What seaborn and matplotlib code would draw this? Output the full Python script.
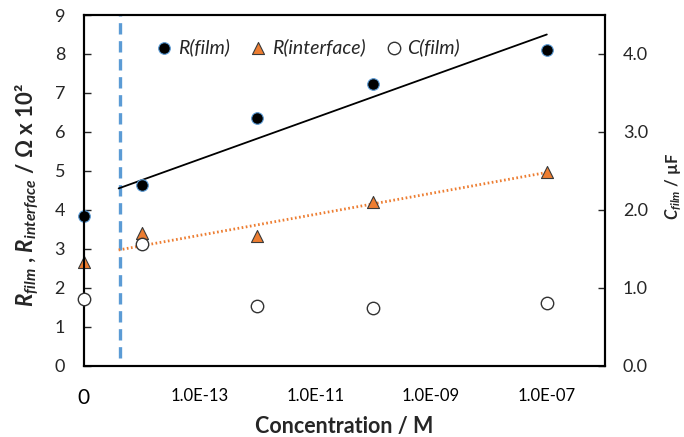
import numpy as np
import pandas as pd
import matplotlib
matplotlib.use("Agg")
import matplotlib.pyplot as plt
import seaborn as sns

# Concentration of each sample (M); the blank (0 M) sits at the left edge of the log axis
conc = [0, 1e-14, 1e-12, 1e-10, 1e-7]
zero_pos = 1e-15

r_film = [3.85, 4.65, 6.36, 7.22, 8.09]        # x 10^2 ohm
r_interface = [2.66, 3.40, 3.34, 4.19, 4.97]   # x 10^2 ohm
c_film = [0.855, 1.56, 0.766, 0.744, 0.81]     # uF

# Trend lines (start / end)
trend_x = [4e-15, 1e-7]
r_film_trend = [4.55, 8.50]
r_interface_trend = [2.97, 4.96]

# Detection-limit marker
limit_x = 4.3e-15
limit_y = [0.2, 9.0]

xtick_vals = [1e-15, 1e-13, 1e-11, 1e-9, 1e-7]
xtick_labels = ["0", "1.0E-13", "1.0E-11", "1.0E-09", "1.0E-07"]

sns.set_theme(style="white")
plt.rcParams["font.family"] = ["Lato", "DejaVu Sans"]
plt.rcParams["mathtext.fontset"] = "custom"
plt.rcParams["mathtext.it"] = "Lato:italic:bold"
plt.rcParams["mathtext.rm"] = "Lato:bold"
plt.rcParams["mathtext.bf"] = "Lato:bold"

x_plot = [c if c > 0 else zero_pos for c in conc]
df = pd.DataFrame({"x": x_plot, "r_film": r_film,
                   "r_interface": r_interface, "c_film": c_film})
trend = pd.DataFrame({"x": trend_x, "film": r_film_trend,
                      "interface": r_interface_trend})

fig = plt.figure(figsize=(6.84, 4.37), dpi=100)
ax = fig.add_axes([83.8 / 684, 1 - 365.7 / 437, (604.7 - 83.8) / 684, (365.7 - 15) / 437])
ax.set_xscale("log")

blue = "#5B9BD5"
orange = "#ED7D31"

ax.vlines(limit_x, limit_y[0], limit_y[1], colors=blue, linewidth=2.4,
          linestyles=(0, (3.4, 2.0)), zorder=1)

sns.lineplot(data=trend, x="x", y="film", ax=ax, color="black",
             linewidth=1.3, zorder=2, legend=False)
sns.lineplot(data=trend, x="x", y="interface", ax=ax, color=orange,
             linewidth=2.0, zorder=2, legend=False)
ax.lines[-1].set_linestyle((0, (0.6, 0.9)))

sns.scatterplot(data=df, x="x", y="r_film", ax=ax, marker="o", s=70,
                color="black", edgecolor=blue, linewidth=0.8, zorder=3,
                label="R(film)", clip_on=False)
sns.scatterplot(data=df, x="x", y="r_interface", ax=ax, marker="^", s=75,
                color=orange, edgecolor="#3a3a3a", linewidth=0.8, zorder=3,
                label="R(interface)", clip_on=False)

ax.set_xlim(1e-15, 1e-6)
ax.set_ylim(0, 9)
ax.set_yticks(range(0, 10))

ax2 = ax.twinx()
sns.scatterplot(data=df, x="x", y="c_film", ax=ax2, marker="o", s=80,
                color="white", edgecolor="#333333", linewidth=1.0, zorder=3,
                label="C(film)", clip_on=False)
ax2.set_ylim(0, 4.5)
ax2.set_yticks([0, 1, 2, 3, 4])
ax2.set_yticklabels([f"{v:.1f}" for v in [0, 1, 2, 3, 4]])
ax.set_xlim(1e-15, 1e-6)

ax.set_xticks(xtick_vals)
ax.set_xticklabels(xtick_labels)
ax.minorticks_off()
ax2.minorticks_off()
ax.xaxis.get_major_ticks()[0].tick1line.set_visible(False)
for lab in ax.get_xticklabels():
    lab.set_fontsize(12)
ax.get_xticklabels()[0].set_fontsize(15)

ax.tick_params(axis="x", direction="in", length=5, width=1, pad=16, colors="black")
ax.tick_params(axis="y", direction="in", length=5, width=1, labelsize=13, pad=13.5)
ax2.tick_params(axis="y", direction="in", length=5, width=1, labelsize=13, pad=13)

for a in (ax, ax2):
    for sp in a.spines.values():
        sp.set_visible(True)
        sp.set_color("black")
        sp.set_linewidth(1.5)

ax.set_xlabel("Concentration / M", fontsize=15.5, fontweight="bold", labelpad=6)
ax.set_ylabel(r"$R_{film}$ , $R_{interface}$ / Ω x 10²", fontsize=16, fontweight="bold")
ax.yaxis.set_label_coords(-0.082, 0.487)
ax2.set_ylabel(r"$C_{film}$ / µF", fontsize=12, fontweight="bold")
ax2.yaxis.set_label_coords(1.114, 0.512)

h1, l1 = ax.get_legend_handles_labels()
h2, l2 = ax2.get_legend_handles_labels()
if ax.get_legend():
    ax.get_legend().remove()
leg = ax2.legend(h1 + h2, l1 + l2, ncol=3, frameon=False, loc="center",
                 bbox_to_anchor=(0.43, 0.909), handlelength=0.9,
                 handletextpad=0.25, columnspacing=1.0,
                 prop={"style": "italic", "size": 14})

fig.savefig("out.png", dpi=100)
